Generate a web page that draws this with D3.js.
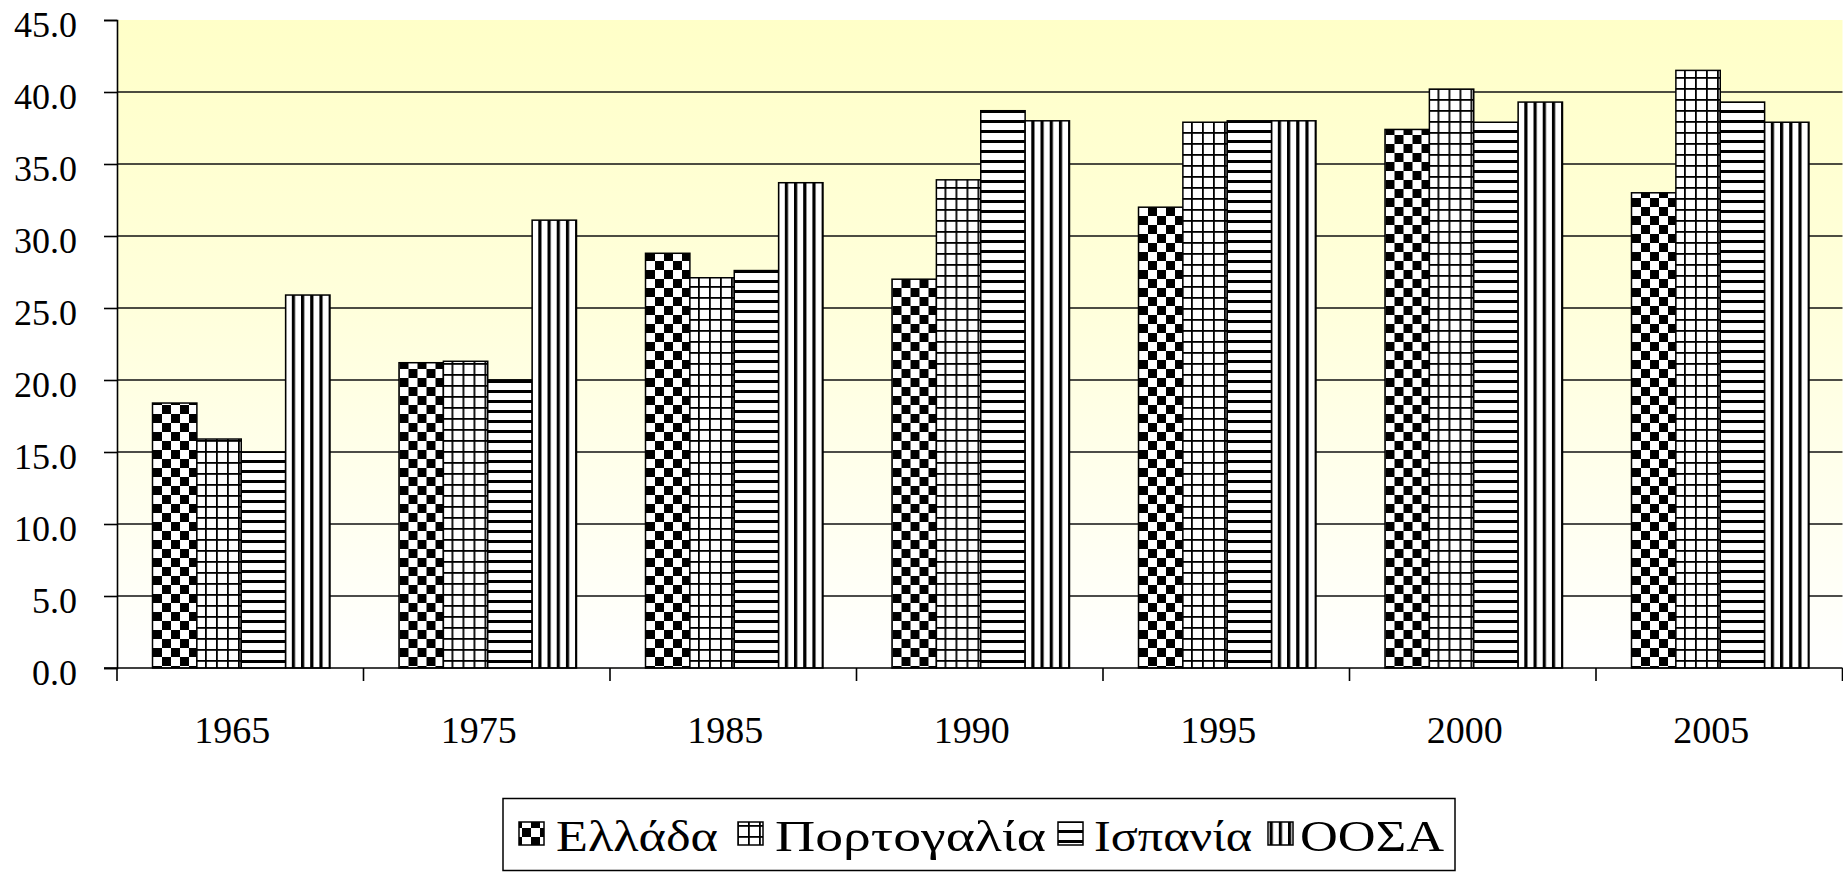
<!DOCTYPE html>
<html><head><meta charset="utf-8">
<script src="https://cdn.jsdelivr.net/npm/d3@7"></script>
<style>
body{margin:0;background:#fff}
svg{display:block}
text{font-family:"Liberation Serif","Times New Roman",serif;fill:#000}
</style>
</head><body>
<svg id="c" width="1843" height="872"></svg>
<script>
// ---- data ----
const categories = ["1965","1975","1985","1990","1995","2000","2005"];
const seriesNames = ["Ελλάδα","Πορτογαλία","Ισπανία","ΟΟΣΑ"];
const greece   = [18.4, 21.2, 28.8, 27.0, 32.0, 37.4, 33.0];
const portugal = [15.9, 21.3, 27.1, 33.9, 37.9, 40.2, 41.5];
const spain    = [15.0, 20.0, 27.6, 38.7, 38.0, 37.9, 39.3];
const oecd     = [25.9, 31.1, 33.7, 38.0, 38.0, 39.3, 37.9];
const yTicks   = [0,5,10,15,20,25,30,35,40,45];
const gridTicks = [5,10,15,20,25,30,35,40];

const seriesValues = [greece, portugal, spain, oecd];
const rows = categories.map((c,i)=>({cat:c, vals:seriesNames.map((s,j)=>({s, j, v:seriesValues[j][i]}))}));

const svg = d3.select("#c");
const L=117, R=1842.5, T=20, B=668;

const defs = svg.append("defs");
const gr = defs.append("linearGradient").attr("id","bg").attr("x1",0).attr("y1",0).attr("x2",0).attr("y2",1);
gr.append("stop").attr("offset","0%").attr("stop-color","#FFFFC8");
gr.append("stop").attr("offset","45%").attr("stop-color","#FFFFDC");
gr.append("stop").attr("offset","100%").attr("stop-color","#FFFFFF");

function pat(id,w,h,build){
  const p = defs.append("pattern").attr("id",id).attr("patternUnits","userSpaceOnUse").attr("width",w).attr("height",h);
  p.append("rect").attr("width",w).attr("height",h).attr("fill","#fff");
  build(p);
}
pat("p0",18,18,p=>{
  p.append("rect").attr("x",0).attr("y",0).attr("width",9).attr("height",9).attr("fill","#000");
  p.append("rect").attr("x",9).attr("y",9).attr("width",9).attr("height",9).attr("fill","#000");
});
pat("p1",11,11,p=>{
  p.append("rect").attr("x",0).attr("y",0).attr("width",1.8).attr("height",11).attr("fill","#000");
  p.append("rect").attr("x",0).attr("y",0).attr("width",11).attr("height",1.8).attr("fill","#000");
});
pat("p2",10,10,p=>{
  p.append("rect").attr("x",0).attr("y",0).attr("width",10).attr("height",3).attr("fill","#000");
});
pat("p3",9.2,10,p=>{
  p.append("rect").attr("x",0).attr("y",0).attr("width",3.2).attr("height",10).attr("fill","#000");
});
const fills = ["url(#p0)","url(#p1)","url(#p2)","url(#p3)"];

// scales
const x0 = d3.scaleBand().domain(categories).range([L,R]).padding(0);
const bw = x0.bandwidth();
const groupW = bw*0.72;
const x1 = d3.scaleBand().domain(seriesNames).range([(bw-groupW)/2+1, (bw+groupW)/2+1]).padding(0);
const y = d3.scaleLinear().domain([0,45]).range([B,T]);

// background
svg.append("rect").attr("x",L).attr("y",T).attr("width",R-L).attr("height",B-T).attr("fill","url(#bg)");

// gridlines
svg.append("g").selectAll("line").data(gridTicks).join("line")
  .attr("x1",L).attr("x2",R).attr("y1",d=>y(d)).attr("y2",d=>y(d))
  .attr("stroke","#111").attr("stroke-width",1.6);

// bars
const grp = svg.append("g").selectAll("g").data(rows).join("g")
  .attr("transform",d=>`translate(${x0(d.cat)},0)`);
grp.selectAll("rect").data(d=>d.vals).join("rect")
  .attr("x",d=>x1(d.s)).attr("width",x1.bandwidth())
  .attr("y",d=>y(d.v)).attr("height",d=>y(0)-y(d.v))
  .attr("fill",d=>fills[d.j]).attr("stroke","#000").attr("stroke-width",1.5);

// y axis
const ya = svg.append("g").attr("transform",`translate(${L},0)`)
  .call(d3.axisLeft(y).tickValues(yTicks).tickSize(13).tickPadding(27).tickFormat(d3.format(".1f")));
ya.select(".domain").attr("stroke","#000").attr("stroke-width",1.6);
ya.selectAll(".tick line").attr("stroke","#000").attr("stroke-width",1.6);
ya.selectAll("text").attr("font-size",36).attr("dy","0.45em").attr("font-family",null);

// x axis
const xa = svg.append("g").attr("transform",`translate(0,${B})`);
xa.append("line").attr("x1",L-13).attr("x2",R).attr("stroke","#000").attr("stroke-width",1.6);
const bounds = categories.map(c=>x0(c)).concat([x0.range()[1]]);
xa.selectAll("line.t").data(bounds).join("line").attr("class","t")
  .attr("x1",d=>d).attr("x2",d=>d).attr("y1",0).attr("y2",13)
  .attr("stroke","#000").attr("stroke-width",1.6);
xa.selectAll("text").data(categories).join("text")
  .attr("x",d=>x0(d)+bw/2-8).attr("y",75)
  .attr("text-anchor","middle").attr("font-size",38).text(d=>d);

// legend
const lg = svg.append("g");
lg.append("rect").attr("x",503).attr("y",798.5).attr("width",952).attr("height",72)
  .attr("fill","#fff").attr("stroke","#000").attr("stroke-width",1.5);
const symX = [519, 738, 1058, 1268];
const txtX = [556, 775, 1094, 1300];
const txtEnd = [718, 1046, 1252, 1444];
const items = lg.selectAll("g").data(seriesNames).join("g");
items.append("rect").attr("x",(d,i)=>symX[i]).attr("y",822).attr("width",25).attr("height",23)
  .attr("fill",(d,i)=>fills[i]).attr("stroke","#000").attr("stroke-width",1.5);
items.append("text").attr("x",(d,i)=>txtX[i]).attr("y",851).attr("font-size",44)
  .attr("textLength",(d,i)=>txtEnd[i]-txtX[i]).attr("lengthAdjust","spacingAndGlyphs").text(d=>d);
</script>
</body></html>
